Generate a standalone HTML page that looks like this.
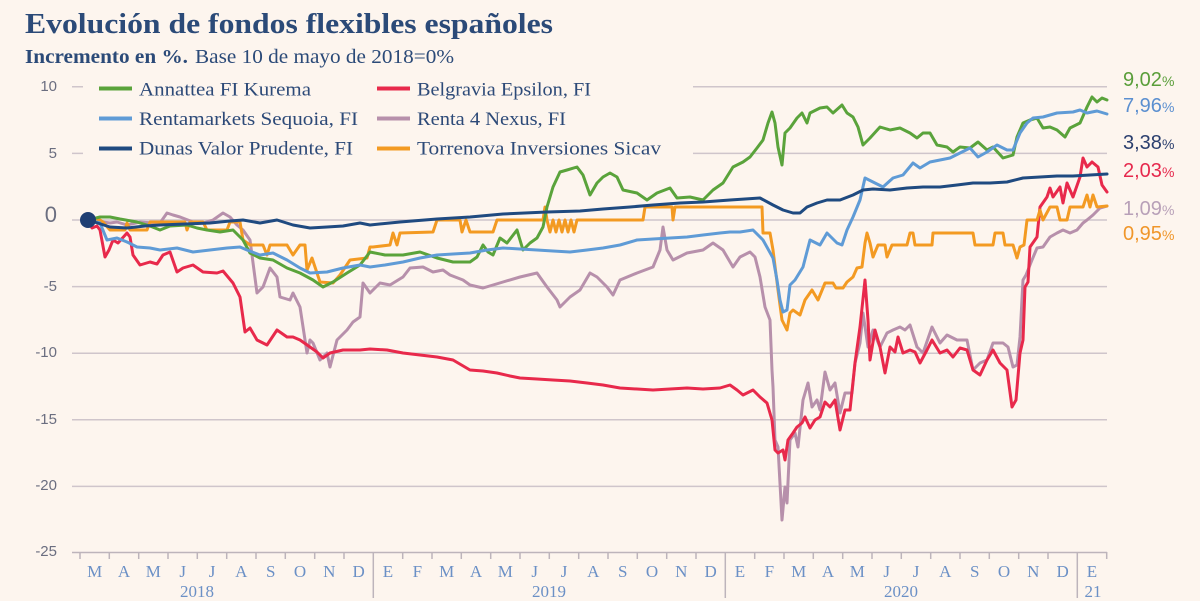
<!DOCTYPE html>
<html><head><meta charset="utf-8"><style>
html,body{margin:0;padding:0;background:#fdf5ee;}
svg{display:block;}
</style></head><body>
<svg width="1200" height="601" viewBox="0 0 1200 601" xmlns="http://www.w3.org/2000/svg">
<rect width="1200" height="601" fill="#fdf5ee"/>
<!-- title -->
<text x="25" y="33" font-family="Liberation Serif, serif" font-weight="bold" font-size="29" fill="#2b4a78" textLength="528" lengthAdjust="spacingAndGlyphs">Evolución de fondos flexibles españoles</text>
<text x="25" y="63" font-family="Liberation Serif, serif" font-weight="bold" font-size="19.5" fill="#2b4a78" textLength="163" lengthAdjust="spacingAndGlyphs">Incremento en %.</text>
<text x="195" y="63" font-family="Liberation Serif, serif" font-size="19.5" fill="#2b4a78" textLength="259" lengthAdjust="spacingAndGlyphs">Base 10 de mayo de 2018=0%</text>

<!-- gridlines -->
<g stroke="#cfc5cb" stroke-width="1.5">
<line x1="72" y1="86.8" x2="1107" y2="86.8"/>
<line x1="72" y1="153.4" x2="1107" y2="153.4"/>
<line x1="72" y1="220" x2="1107" y2="220"/>
<line x1="72" y1="286.6" x2="1107" y2="286.6"/>
<line x1="72" y1="353.2" x2="1107" y2="353.2"/>
<line x1="72" y1="419.8" x2="1107" y2="419.8"/>
<line x1="72" y1="486.4" x2="1107" y2="486.4"/>
</g>
<!-- axis -->
<g stroke="#bdb4bb" stroke-width="1.5">
<line x1="72" y1="552.5" x2="1107" y2="552.5"/>
<line x1="80" y1="552" x2="80" y2="559"/><line x1="109.3" y1="552" x2="109.3" y2="559"/><line x1="138.7" y1="552" x2="138.7" y2="559"/><line x1="168" y1="552" x2="168" y2="559"/><line x1="197.3" y1="552" x2="197.3" y2="559"/><line x1="226.7" y1="552" x2="226.7" y2="559"/><line x1="256" y1="552" x2="256" y2="559"/><line x1="285.3" y1="552" x2="285.3" y2="559"/><line x1="314.7" y1="552" x2="314.7" y2="559"/><line x1="344" y1="552" x2="344" y2="559"/>
<line x1="373.3" y1="552" x2="373.3" y2="598"/>
<line x1="402.7" y1="552" x2="402.7" y2="559"/><line x1="432" y1="552" x2="432" y2="559"/><line x1="461.3" y1="552" x2="461.3" y2="559"/><line x1="490.7" y1="552" x2="490.7" y2="559"/><line x1="520" y1="552" x2="520" y2="559"/><line x1="549.3" y1="552" x2="549.3" y2="559"/><line x1="578.7" y1="552" x2="578.7" y2="559"/><line x1="608" y1="552" x2="608" y2="559"/><line x1="637.3" y1="552" x2="637.3" y2="559"/><line x1="666.7" y1="552" x2="666.7" y2="559"/><line x1="696" y1="552" x2="696" y2="559"/>
<line x1="725.3" y1="552" x2="725.3" y2="598"/>
<line x1="754.7" y1="552" x2="754.7" y2="559"/><line x1="784" y1="552" x2="784" y2="559"/><line x1="813.3" y1="552" x2="813.3" y2="559"/><line x1="842.7" y1="552" x2="842.7" y2="559"/><line x1="872" y1="552" x2="872" y2="559"/><line x1="901.3" y1="552" x2="901.3" y2="559"/><line x1="930.7" y1="552" x2="930.7" y2="559"/><line x1="960" y1="552" x2="960" y2="559"/><line x1="989.3" y1="552" x2="989.3" y2="559"/><line x1="1018.7" y1="552" x2="1018.7" y2="559"/><line x1="1048" y1="552" x2="1048" y2="559"/>
<line x1="1077.3" y1="552" x2="1077.3" y2="598"/>
<line x1="1106.7" y1="552" x2="1106.7" y2="559"/>
</g>
<!-- month labels -->
<g font-family="Liberation Serif, serif" font-size="17" fill="#6b90c6" text-anchor="middle">
<text x="94.7" y="577">M</text><text x="124" y="577">A</text><text x="153.3" y="577">M</text><text x="182.7" y="577">J</text><text x="212" y="577">J</text><text x="241.3" y="577">A</text><text x="270.7" y="577">S</text><text x="300" y="577">O</text><text x="329.3" y="577">N</text><text x="358.7" y="577">D</text>
<text x="388" y="577">E</text><text x="417.3" y="577">F</text><text x="446.7" y="577">M</text><text x="476" y="577">A</text><text x="505.3" y="577">M</text><text x="534.7" y="577">J</text><text x="564" y="577">J</text><text x="593.3" y="577">A</text><text x="622.7" y="577">S</text><text x="652" y="577">O</text><text x="681.3" y="577">N</text><text x="710.7" y="577">D</text>
<text x="740" y="577">E</text><text x="769.3" y="577">F</text><text x="798.7" y="577">M</text><text x="828" y="577">A</text><text x="857.3" y="577">M</text><text x="886.7" y="577">J</text><text x="916" y="577">J</text><text x="945.3" y="577">A</text><text x="974.7" y="577">S</text><text x="1004" y="577">O</text><text x="1033.3" y="577">N</text><text x="1062.7" y="577">D</text>
<text x="1092" y="577">E</text>
<text x="197" y="597">2018</text><text x="549" y="597">2019</text><text x="901" y="597">2020</text><text x="1093" y="597">21</text>
</g>
<!-- y labels -->
<g font-family="Liberation Sans, sans-serif" font-size="15" fill="#6b6e80" text-anchor="end">
<text x="57" y="91">10</text>
<text x="57" y="158">5</text>
<text x="57" y="222" font-size="22">0</text>
<text x="57" y="291">-5</text>
<text x="57" y="357">-10</text>
<text x="57" y="424">-15</text>
<text x="57" y="490">-20</text>
<text x="57" y="556">-25</text>
</g>

<!-- legend box -->
<rect x="83" y="73" width="610" height="90" fill="#fdf5ee"/>
<g stroke-width="4">
<line x1="99" y1="88.5" x2="132" y2="88.5" stroke="#5aa33b"/>
<line x1="99" y1="118.5" x2="132" y2="118.5" stroke="#5f9bd6"/>
<line x1="99" y1="148.5" x2="132" y2="148.5" stroke="#1f4a80"/>
<line x1="377" y1="88.5" x2="410" y2="88.5" stroke="#e8294b"/>
<line x1="377" y1="118.5" x2="410" y2="118.5" stroke="#b790ab"/>
<line x1="377" y1="148.5" x2="410" y2="148.5" stroke="#f39a22"/>
</g>
<g font-family="Liberation Serif, serif" font-size="18.5" fill="#2d4a78">
<text x="139" y="95.5" textLength="172" lengthAdjust="spacingAndGlyphs">Annattea FI Kurema</text>
<text x="139" y="125" textLength="219" lengthAdjust="spacingAndGlyphs">Rentamarkets Sequoia, FI</text>
<text x="139" y="154.5" textLength="214" lengthAdjust="spacingAndGlyphs">Dunas Valor Prudente, FI</text>
<text x="417" y="95.5" textLength="174" lengthAdjust="spacingAndGlyphs">Belgravia Epsilon, FI</text>
<text x="417" y="125" textLength="149" lengthAdjust="spacingAndGlyphs">Renta 4 Nexus, FI</text>
<text x="417" y="154.5" textLength="244" lengthAdjust="spacingAndGlyphs">Torrenova Inversiones Sicav</text>
</g>

<!-- series -->
<g fill="none" stroke-width="3" stroke-linejoin="round" stroke-linecap="round">
<!-- Renta 4 Nexus -->
<polyline stroke="#b790ab" points="88,220 110,223 117,222 127,225 140,222 153,223 160,223 167,213 173,215 180,217 193,222 203,223 213,220 223,213 230,217 237,225 243,230 250,240 257,293 263,287 270,268 277,277 280,297 290,300 293,293 300,307 307,353 310,340 313,343 320,360 327,353 330,367 337,340 347,330 353,322 360,317 363,283 370,293 380,283 390,285 403,277 410,268 423,267 433,272 443,270 450,275 463,280 470,285 483,288 493,285 503,282 520,277 537,273 547,287 557,300 560,307 570,297 580,290 590,273 597,277 607,287 613,295 620,280 637,273 653,267 660,250 663,227 667,250 673,260 687,253 703,250 713,243 723,250 733,267 740,257 750,252 755,257 760,277 765,307 770,320 772,370 773,387 775,440 778,447 782,520 785,487 787,503 790,440 795,433 798,447 803,400 808,383 812,407 817,400 820,410 825,372 830,390 835,383 840,413 845,393 852,393 855,363 860,343 863,313 868,347 873,330 880,347 887,333 893,330 900,327 905,330 910,325 917,347 923,353 932,327 940,343 947,335 957,340 967,340 973,370 980,363 987,360 993,343 1003,343 1008,347 1013,367 1017,365 1020,337 1023,280 1026,275 1028,270 1032,260 1037,248 1043,247 1050,237 1057,233 1063,230 1070,233 1077,230 1083,223 1087,220 1093,215 1100,208 1107,206"/>
<!-- Belgravia -->
<polyline stroke="#e8294b" points="88,220 92,228 97,226 100,230 105,257 109,250 113,240 118,243 127,233 130,237 133,255 140,265 150,262 157,264 163,255 170,252 177,272 183,268 193,265 203,272 217,273 223,271 233,283 240,297 245,332 250,328 257,340 267,345 277,330 287,337 293,337 300,340 310,347 317,352 323,358 330,353 343,350 360,350 370,349 387,350 403,353 420,355 437,357 453,360 470,370 483,371 497,373 510,376 520,378 537,379 553,380 570,381 587,383 603,385 620,388 637,389 653,390 670,389 687,388 703,389 720,388 730,385 737,390 743,395 753,390 760,397 767,403 772,420 775,450 778,453 783,450 785,460 788,440 793,433 797,427 802,423 805,417 810,428 815,420 820,417 825,402 830,407 835,400 840,430 845,410 850,410 855,363 860,327 865,280 868,320 870,360 875,330 880,347 885,373 890,347 895,352 898,337 903,353 910,350 915,352 920,363 927,350 932,340 940,353 947,350 953,357 960,348 967,350 973,370 980,375 987,360 993,350 1000,363 1007,370 1012,407 1016,400 1020,353 1023,340 1025,287 1028,282 1030,247 1037,237 1040,207 1047,197 1050,188 1053,197 1060,187 1063,203 1067,183 1073,197 1080,177 1083,158 1087,167 1092,162 1098,167 1102,185 1107,192"/>
<!-- Torrenova -->
<polyline stroke="#f39a22" points="88,220 100,220 103,222 110,230 125,230 127,223 130,230 147,230 150,222 185,222 187,230 190,222 203,222 207,230 227,230 230,222 240,222 243,240 250,245 263,245 267,255 270,245 287,245 293,255 300,245 305,245 307,270 312,258 316,270 320,282 333,283 340,275 350,260 367,258 370,247 373,247 390,245 393,233 397,245 400,233 433,232 437,220 460,220 462,232 466,220 470,232 493,232 497,220 543,220 545,207 547,220 550,232 553,220 556,232 559,220 562,232 565,220 568,232 571,220 574,232 577,220 643,220 645,207 672,207 673,220 675,207 762,207 763,233 770,233 773,250 778,290 782,320 787,330 790,313 793,310 800,315 805,300 812,290 818,300 825,283 833,283 836,288 843,288 847,282 853,277 857,268 862,267 865,243 867,233 870,243 873,257 878,245 885,245 887,257 892,245 907,245 910,233 913,233 915,245 932,245 933,233 973,233 975,245 993,245 995,233 1003,233 1005,245 1013,245 1017,258 1020,247 1024,245 1027,220 1037,220 1040,210 1043,220 1050,207 1057,207 1060,220 1067,220 1070,207 1083,207 1087,195 1090,207 1093,195 1097,207 1107,206"/>
<!-- Annattea -->
<polyline stroke="#5aa33b" points="88,220 100,217 110,217 120,219 137,222 150,226 160,230 170,226 187,225 197,228 207,230 220,232 233,230 243,240 250,253 260,258 273,260 287,268 300,273 313,280 323,287 333,282 347,273 360,265 370,252 385,255 403,255 420,252 437,258 453,262 470,262 477,257 483,245 488,252 493,255 500,238 507,243 517,230 523,250 530,243 537,238 543,227 547,207 553,187 560,172 567,170 577,167 583,175 590,195 597,183 603,177 610,173 617,177 623,190 637,193 647,200 657,193 670,188 677,198 690,197 703,200 713,190 723,183 733,167 743,162 750,157 757,148 763,140 768,123 772,112 775,123 778,147 782,165 785,133 790,128 797,118 802,113 807,123 810,113 820,108 827,107 833,113 842,105 847,113 853,117 858,127 863,145 870,138 880,127 890,130 900,128 910,133 917,138 923,133 930,133 937,145 947,147 953,152 960,147 970,148 978,142 987,150 993,147 1003,158 1013,155 1017,137 1023,123 1030,120 1037,118 1043,128 1050,127 1057,130 1065,137 1070,128 1080,123 1087,107 1092,97 1097,102 1102,98 1107,100"/>
<!-- Rentamarkets -->
<polyline stroke="#5f9bd6" points="88,220 100,223 107,240 117,238 127,242 137,247 150,248 160,250 177,248 193,252 210,250 227,248 240,247 247,250 260,255 273,253 287,260 300,268 310,273 327,272 343,268 360,265 370,267 385,265 403,262 420,258 437,255 453,254 470,253 487,250 503,248 520,249 537,250 553,251 570,252 587,250 603,248 620,245 637,240 653,239 670,238 687,237 703,235 720,233 730,232 740,232 753,230 763,240 773,258 777,280 780,300 783,312 787,310 790,285 795,280 803,267 810,240 820,245 827,233 837,243 842,245 847,230 853,217 860,200 865,178 873,182 883,187 893,178 903,175 913,163 920,168 930,162 940,160 950,158 960,153 970,148 978,157 987,152 997,145 1007,150 1013,150 1020,133 1027,123 1033,118 1043,117 1057,113 1073,112 1080,110 1087,113 1097,111 1107,114"/>
<!-- Dunas -->
<polyline stroke="#1f4a80" points="88,220 110,227 127,228 145,226 160,225 185,224 210,223 230,221 243,220 260,223 277,220 293,225 310,228 327,227 343,226 360,223 370,225 400,222 437,219 470,217 503,214 547,212 580,211 603,209 630,207 653,205 680,203 703,202 730,200 760,198 773,205 783,210 793,213 800,213 807,207 817,203 827,200 840,200 853,195 863,190 873,189 890,190 907,188 923,187 940,187 957,185 973,183 990,183 1007,182 1023,178 1040,177 1057,176 1073,176 1090,175 1107,174"/>
</g>
<circle cx="88" cy="220" r="8" fill="#1f3f73"/>

<!-- end labels -->
<g font-family="Liberation Sans, sans-serif" font-size="20">
<text x="1123" y="86" fill="#5a9e3a">9,02<tspan font-size="14">%</tspan></text>
<text x="1123" y="112" fill="#5b8fd0">7,96<tspan font-size="14">%</tspan></text>
<text x="1123" y="149" fill="#2b3f6e">3,38<tspan font-size="14">%</tspan></text>
<text x="1123" y="177" fill="#e6294d">2,03<tspan font-size="14">%</tspan></text>
<text x="1123" y="215" fill="#b8a0b8">1,09<tspan font-size="14">%</tspan></text>
<text x="1123" y="240" fill="#f0962a">0,95<tspan font-size="14">%</tspan></text>
</g>
</svg>
</body></html>
